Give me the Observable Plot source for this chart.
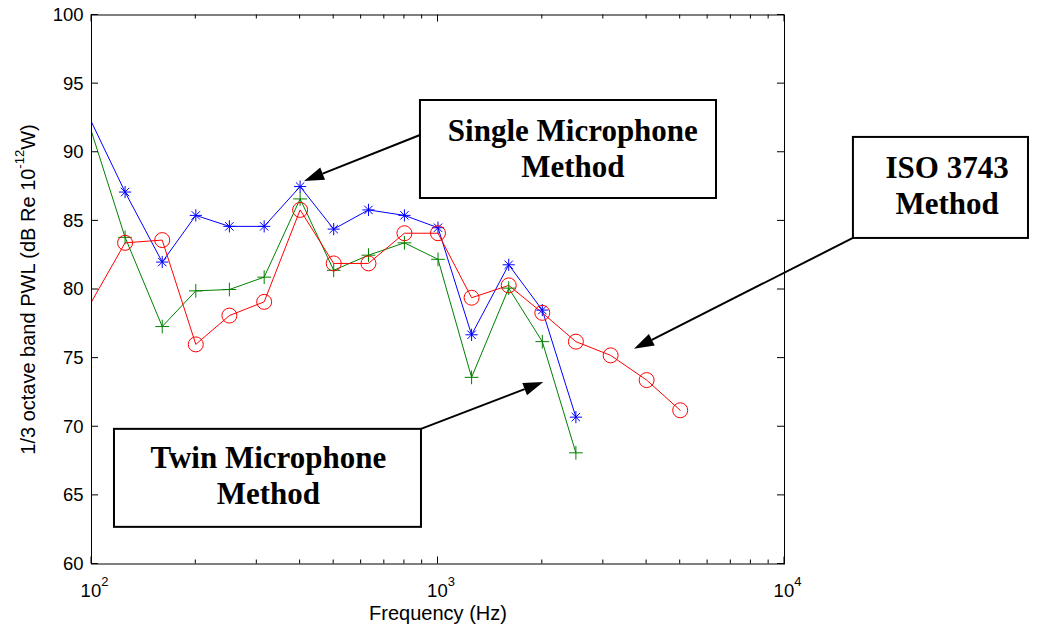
<!DOCTYPE html>
<html><head><meta charset="utf-8">
<script src="https://cdn.jsdelivr.net/npm/d3@7"></script>
<script src="https://cdn.jsdelivr.net/npm/@observablehq/plot@0.6"></script>
<style>body{margin:0;background:#fff}</style>
</head><body><div id="chart"></div>
<script>
// ---- data ----
const freqs = [100,125,160,200,250,315,400,500,630,800,1000,1250,1600,2000,2500,3150,4000,5000];
const singleMic = [92.2,87.1,82.0,85.4,84.6,84.6,87.5,84.4,85.8,85.4,84.5,76.7,81.8,78.5,70.7];
const twinMic   = [91.5,83.8,77.3,79.9,80.0,80.9,86.6,81.4,82.5,83.4,82.2,73.6,80.1,76.2,68.1];
const iso3743   = [79.1,83.4,83.6,76.0,78.1,79.1,85.8,81.9,81.9,84.1,84.1,79.4,80.3,78.3,76.2,75.2,73.4,71.2];

const xMajorTicks = [100, 1000, 10000];
const xMinorTicks = [200,300,400,500,600,700,800,900,2000,3000,4000,5000,6000,7000,8000,9000];
const yTicks = [60,65,70,75,80,85,90,95,100];

const xLabel = "Frequency (Hz)";
const yLabel = "1/3 octave band PWL (dB Re 10^-12^W)";

// annotations (data coordinates)
const annotLabels = ["Single Microphone\nMethod", "ISO 3743\nMethod", "Twin Microphone\nMethod"];
const annotX = [2450, 29450, 324];
const annotY = [90.35, 87.65, 66.51];
const boxX1 = [890, 15810, 116.5];
const boxX2 = [6364, 50600, 896];
const boxY1 = [86.63, 83.72, 62.67];
const boxY2 = [93.77, 91.08, 69.81];
const arrowFromX = [890, 15810, 896];
const arrowFromY = [91.22, 83.72, 69.81];
const arrowToX = [412, 3690, 2020];
const arrowToY = [87.87, 75.64, 73.23];

// ---- tables ----
const toRows = (vals) => vals.map((v, i) => ({freq: freqs[i], value: v}));
const single = toRows(singleMic), twin = toRows(twinMic), iso = toRows(iso3743);
const annots = annotLabels.map((t, i) => ({t, x: annotX[i], y: annotY[i], x1: boxX1[i], x2: boxX2[i], y1: boxY1[i], y2: boxY2[i]}));

const BLUE = "#0000ff", GREEN = "#008000", RED = "#ff0000";
const SANS = "'Liberation Sans', Arial, Helvetica, sans-serif";

function ticksMark(index, scales, values, dim) {
  const {x, y} = scales;
  const top = dim.marginTop, bottom = dim.height - dim.marginBottom;
  const left = dim.marginLeft, right = dim.width - dim.marginRight;
  const g = d3.create("svg:g").attr("stroke", "black").attr("stroke-width", 1);
  const addX = (arr, L) => arr.forEach(v => {
    const px = x(v);
    g.append("line").attr("x1", px).attr("x2", px).attr("y1", bottom).attr("y2", bottom - L);
    g.append("line").attr("x1", px).attr("x2", px).attr("y1", top).attr("y2", top + L);
  });
  addX(xMajorTicks, 7); addX(xMinorTicks, 4);
  yTicks.forEach(v => {
    const py = y(v);
    g.append("line").attr("x1", left).attr("x2", left + 7).attr("y1", py).attr("y2", py);
    g.append("line").attr("x1", right).attr("x2", right - 7).attr("y1", py).attr("y2", py);
  });
  return g.node();
}

function arrowsMark(index, scales) {
  const {x, y} = scales;
  const g = d3.create("svg:g");
  for (let i = 0; i < arrowFromX.length; i++) {
    const x1 = x(arrowFromX[i]), y1 = y(arrowFromY[i]), x2 = x(arrowToX[i]), y2 = y(arrowToY[i]);
    const a = Math.atan2(y2 - y1, x2 - x1);
    const L = 20, W = 6.5;
    const bx = x2 - L * Math.cos(a), by = y2 - L * Math.sin(a);
    g.append("line").attr("x1", x1).attr("y1", y1).attr("x2", bx).attr("y2", by)
      .attr("stroke", "black").attr("stroke-width", 2);
    g.append("path")
      .attr("d", `M${x2},${y2}L${bx - W * Math.sin(a)},${by + W * Math.cos(a)}L${bx + W * Math.sin(a)},${by - W * Math.cos(a)}Z`)
      .attr("fill", "black");
  }
  return g.node();
}

const pts = (data) => data.filter(d => d.freq > 100);

const chart = Plot.plot({
  width: 1040, height: 634,
  marginLeft: 91, marginRight: 256, marginTop: 14.5, marginBottom: 70.5,
  style: {fontFamily: SANS, background: "#fff", overflow: "visible"},
  x: {type: "log", domain: [100, 10000], axis: null},
  y: {domain: [60, 100], axis: null},
  marks: [
    Plot.line(single, {x: "freq", y: "value", stroke: BLUE, strokeWidth: 1, clip: true}),
    Plot.line(twin, {x: "freq", y: "value", stroke: GREEN, strokeWidth: 1, clip: true}),
    Plot.line(iso, {x: "freq", y: "value", stroke: RED, strokeWidth: 1, clip: true}),
    Plot.dot(pts(single), {x: "freq", y: "value", stroke: BLUE, symbol: "plus", r: 4, strokeWidth: 1}),
    Plot.dot(pts(single), {x: "freq", y: "value", stroke: BLUE, symbol: "times", r: 3.9, strokeWidth: 1}),
    Plot.dot(pts(twin), {x: "freq", y: "value", stroke: GREEN, symbol: "plus", r: 4.5, strokeWidth: 1}),
    Plot.dot(pts(iso), {x: "freq", y: "value", stroke: RED, fill: "none", symbol: "circle", r: 7.5, strokeWidth: 1}),
    Plot.frame({stroke: "black", strokeWidth: 1}),
    ticksMark,
    Plot.axisX({ticks: xMajorTicks, tickSize: 0, tickPadding: 19.5, dx: 3, label: null,
      tickFormat: d => `10^${Math.round(Math.log10(d))}`}),
    Plot.axisY({ticks: yTicks, tickSize: 0, tickPadding: 8, label: null}),
    Plot.text([xLabel], {frameAnchor: "bottom", lineAnchor: "middle", dy: 50, text: d => d}),
    Plot.text([yLabel], {frameAnchor: "left", dx: -63, rotate: -90, textAnchor: "middle", lineAnchor: "middle", text: d => d}),
    arrowsMark,
    Plot.rect(annots, {x1: "x1", x2: "x2", y1: "y1", y2: "y2", fill: "white", stroke: "black", strokeWidth: 2}),
    Plot.text(annots, {x: "x", y: "y", text: "t", fontSize: 31, fontWeight: "bold",
      fontFamily: "'Liberation Serif', 'Times New Roman', serif", lineHeight: 1.16})
  ]
});

// enforce font sizes
d3.select(chart).selectAll('g[aria-label="x-axis tick label"] text, g[aria-label="y-axis tick label"] text')
  .style("font-size", "18.5px").style("font-family", SANS);
d3.select(chart).selectAll("text").each(function() {
  const s = this.textContent;
  if (s === xLabel || s === yLabel) d3.select(this).style("font-size", "20px").style("font-family", SANS);
});

// superscripts: parts between ^ markers become raised smaller text
d3.select(chart).selectAll("text").each(function() {
  if (this.querySelector("tspan")) return;
  const s = this.textContent;
  if (!s.includes("^")) return;
  const parts = s.split("^");
  this.textContent = "";
  parts.forEach((p, i) => {
    const ts = document.createElementNS("http://www.w3.org/2000/svg", "tspan");
    ts.textContent = p;
    if (i % 2 === 1) { ts.style.fontSize = "13px"; ts.setAttribute("dy", "-11"); }
    else if (i > 0) { ts.setAttribute("dy", "11"); }
    this.appendChild(ts);
  });
});

document.getElementById("chart").appendChild(chart);
</script>
</body></html>
